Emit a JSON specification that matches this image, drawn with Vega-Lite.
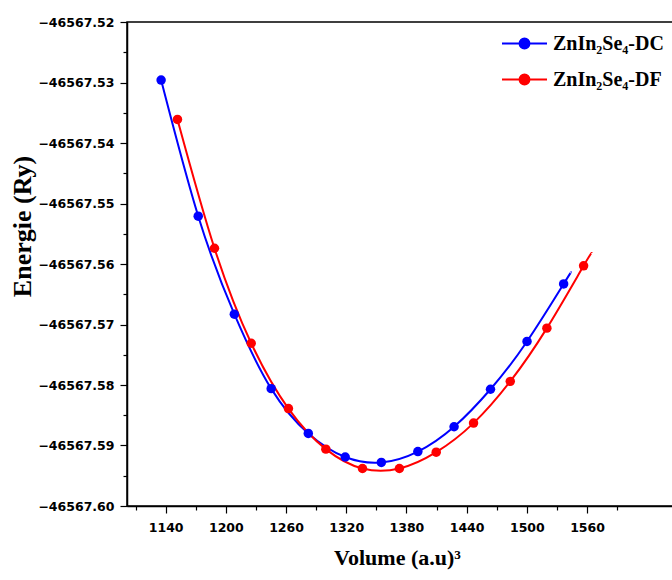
{
  "$schema": "https://vega.github.io/schema/vega-lite/v6.json",
  "autosize": {"type": "none"},
  "padding": {"left": 127, "top": 22, "right": 0, "bottom": 74},
  "width": 546,
  "height": 484,
  "background": "white",
  "config": {
    "view": {"stroke": "black", "strokeWidth": 1.5},
    "axis": {
      "domainColor": "black",
      "domainWidth": 1.5,
      "tickColor": "black",
      "tickWidth": 1.2,
      "grid": false,
      "labelFont": "DejaVu Sans",
      "labelFontWeight": "bold",
      "labelFontSize": 12.5,
      "labelColor": "black",
      "titleFont": "Liberation Serif",
      "titleFontWeight": "bold",
      "titleFontSize": 22,
      "titleColor": "black"
    }
  },
  "data": {
    "values": [
      {"series": "ZnIn₂Se₄-DC", "volume": 1135.5, "energy": -46567.5296, "dot": true},
      {"series": "ZnIn₂Se₄-DC", "volume": 1172.5, "energy": -46567.5521, "dot": true},
      {"series": "ZnIn₂Se₄-DC", "volume": 1208.5, "energy": -46567.5683, "dot": true},
      {"series": "ZnIn₂Se₄-DC", "volume": 1245.2, "energy": -46567.5806, "dot": true},
      {"series": "ZnIn₂Se₄-DC", "volume": 1282.2, "energy": -46567.5880, "dot": true},
      {"series": "ZnIn₂Se₄-DC", "volume": 1319.0, "energy": -46567.5919, "dot": true},
      {"series": "ZnIn₂Se₄-DC", "volume": 1355.0, "energy": -46567.5928, "dot": true},
      {"series": "ZnIn₂Se₄-DC", "volume": 1391.4, "energy": -46567.5910, "dot": true},
      {"series": "ZnIn₂Se₄-DC", "volume": 1427.5, "energy": -46567.5869, "dot": true},
      {"series": "ZnIn₂Se₄-DC", "volume": 1463.8, "energy": -46567.5807, "dot": true},
      {"series": "ZnIn₂Se₄-DC", "volume": 1500.2, "energy": -46567.5728, "dot": true},
      {"series": "ZnIn₂Se₄-DC", "volume": 1536.7, "energy": -46567.5633, "dot": true},
      {"series": "ZnIn₂Se₄-DC", "volume": 1544.0, "energy": -46567.5614, "dot": false},
      {"series": "ZnIn₂Se₄-DF", "volume": 1151.8, "energy": -46567.5361, "dot": true},
      {"series": "ZnIn₂Se₄-DF", "volume": 1188.7, "energy": -46567.5574, "dot": true},
      {"series": "ZnIn₂Se₄-DF", "volume": 1225.3, "energy": -46567.5731, "dot": true},
      {"series": "ZnIn₂Se₄-DF", "volume": 1262.4, "energy": -46567.5839, "dot": true},
      {"series": "ZnIn₂Se₄-DF", "volume": 1299.7, "energy": -46567.5906, "dot": true},
      {"series": "ZnIn₂Se₄-DF", "volume": 1336.2, "energy": -46567.5938, "dot": true},
      {"series": "ZnIn₂Se₄-DF", "volume": 1373.0, "energy": -46567.5938, "dot": true},
      {"series": "ZnIn₂Se₄-DF", "volume": 1409.7, "energy": -46567.5911, "dot": true},
      {"series": "ZnIn₂Se₄-DF", "volume": 1446.9, "energy": -46567.5863, "dot": true},
      {"series": "ZnIn₂Se₄-DF", "volume": 1483.5, "energy": -46567.5794, "dot": true},
      {"series": "ZnIn₂Se₄-DF", "volume": 1520.0, "energy": -46567.5706, "dot": true},
      {"series": "ZnIn₂Se₄-DF", "volume": 1556.6, "energy": -46567.5603, "dot": true},
      {"series": "ZnIn₂Se₄-DF", "volume": 1564.8, "energy": -46567.5582, "dot": false}
    ]
  },
  "encoding": {
    "x": {
      "field": "volume",
      "type": "quantitative",
      "scale": {"domain": [1101.5, 1645.7], "nice": false, "zero": false},
      "axis": {
        "title": "Volume (a.u)³",
        "values": [1110, 1140, 1170, 1200, 1230, 1260, 1290, 1320, 1350, 1380, 1410, 1440, 1470, 1500, 1530, 1560, 1590],
        "format": "d",
        "labelExpr": "datum.value % 60 == 0 ? datum.label : ''",
        "tickSize": {"condition": {"test": "datum.value % 60 == 0", "value": 7}, "value": 4},
        "labelPadding": 8,
        "titlePadding": 14,
        "titleX": 270,
        "labelFlush": false,
        "labelOverlap": false
      }
    },
    "y": {
      "field": "energy",
      "type": "quantitative",
      "scale": {"domain": [-46567.60, -46567.52], "nice": false, "zero": false},
      "axis": {
        "title": "Energie (Ry)",
        "titleFontSize": 26,
        "titleX": -92,
        "titleY": 204,
        "values": [-46567.600, -46567.595, -46567.590, -46567.585, -46567.580, -46567.575, -46567.570, -46567.565, -46567.560, -46567.555, -46567.550, -46567.545, -46567.540, -46567.535, -46567.530, -46567.525, -46567.520],
        "labelExpr": "abs(round(datum.value*1000)) % 10 == 0 ? format(datum.value, '.2f') : ''",
        "tickSize": {"condition": {"test": "abs(round(datum.value*1000)) % 10 == 0", "value": 7}, "value": 4},
        "labelPadding": 6,
        "labelFlush": false,
        "labelOverlap": false
      }
    },
    "color": {
      "field": "series",
      "type": "nominal",
      "scale": {"domain": ["ZnIn₂Se₄-DC", "ZnIn₂Se₄-DF"], "range": ["#0000FF", "#FF0000"]},
      "legend": {
        "title": null,
        "orient": "none",
        "legendX": 374,
        "legendY": -2,
        "labelFont": "Liberation Serif",
        "labelFontWeight": "bold",
        "labelFontSize": 20,
        "labelColor": "black",
        "labelOffset": 5,
        "symbolType": "M-1,0H1M-0.22,0A0.22,0.22,0,1,1,0.22,0A0.22,0.22,0,1,1,-0.22,0Z",
        "symbolSize": 2025,
        "symbolStrokeWidth": 2,
        "rowPadding": 2,
        "encode": {
          "symbols": {
            "update": {
              "fill": {"scale": "color", "field": "value"},
              "stroke": {"scale": "color", "field": "value"},
              "fillOpacity": {"value": 1},
              "strokeOpacity": {"value": 1}
            }
          }
        }
      }
    }
  },
  "layer": [
    {
      "mark": {"type": "line", "interpolate": "natural", "strokeWidth": 2},
      "encoding": {"detail": {"field": "series"}}
    },
    {
      "transform": [{"filter": "datum.dot"}],
      "mark": {"type": "point", "filled": true, "size": 90, "opacity": 1},
      "encoding": {"color": {"field": "series", "type": "nominal", "legend": null}}
    }
  ]
}
